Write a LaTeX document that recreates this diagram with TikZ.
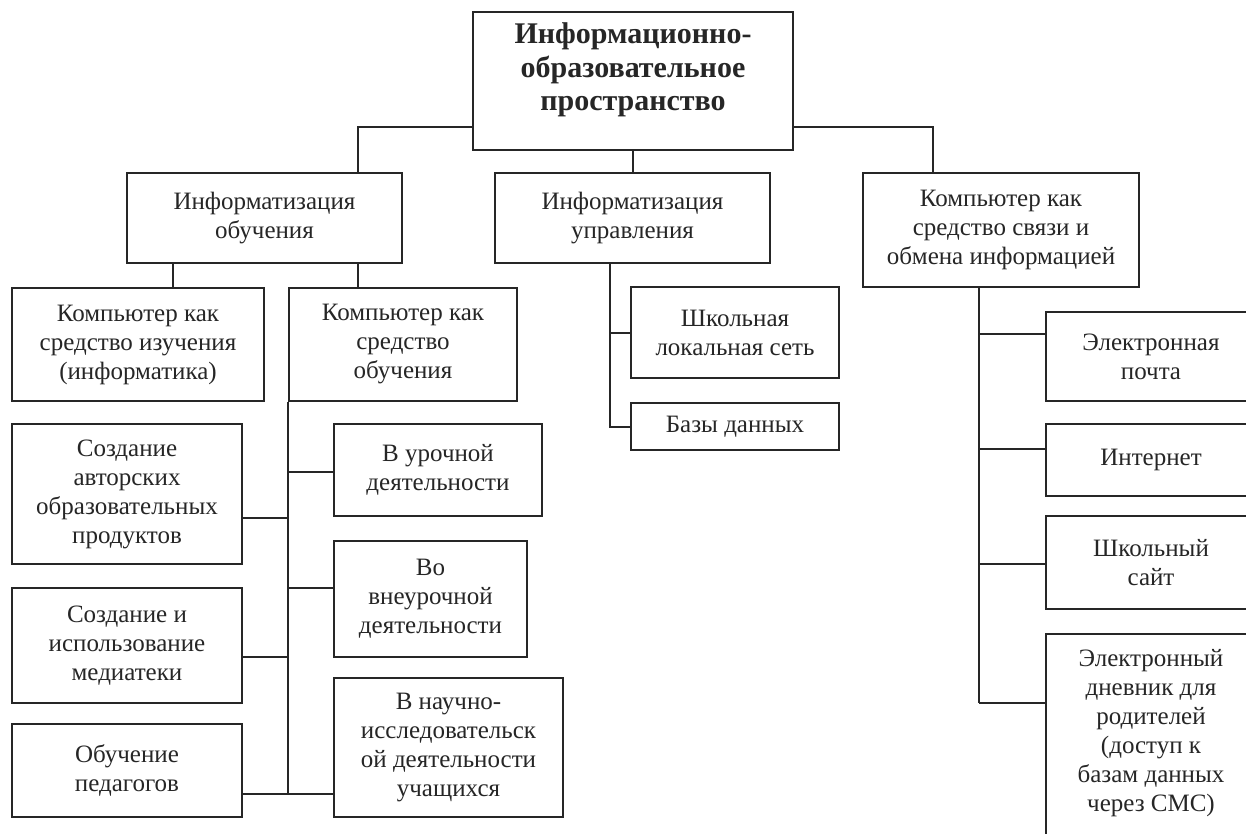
\documentclass[tikz,border=0pt]{standalone}
\usepackage{fontspec}
\setmainfont{Liberation Serif}
\begin{document}
\begin{tikzpicture}[x=1pt,y=-1pt,
  box/.style={draw=black!85, line width=2pt, inner sep=0pt, align=center,
    font=\fontsize{25}{29}\selectfont, text=black!85},
  rootfont/.style={inner sep=0pt, align=center,
    font=\fontsize{30}{33.5}\selectfont\bfseries, text=black!85},
  txt/.style={inner sep=0pt, align=center, font=\fontsize{25}{29}\selectfont, text=black!85},
  ln/.style={draw=black!85, line width=2pt}]
\useasboundingbox (0,0) rectangle (1246,834);
\clip (0,0) rectangle (1246,834);
\fill[white] (0,0) rectangle (1246,834);

% level 0
\node[box, minimum width=320pt, minimum height=138pt] (root) at (633,81) {};
\node[rootfont] (roott) at (633,70) {Информационно-\\образовательное\\пространство};

% level 1
\node[box, minimum width=275pt, minimum height=90pt] (io) at (264.5,218) {Информатизация\\обучения};
\node[box, minimum width=275pt, minimum height=90pt] (iu) at (632.5,218) {Информатизация\\управления};
\node[box, minimum width=276pt, minimum height=114pt] (ks) at (1001,230) {Компьютер как\\средство связи и\\обмена информацией};

% under Информатизация обучения
\node[box, minimum width=252pt, minimum height=113pt] (ki) at (138,344.5) {Компьютер как\\средство изучения\\(информатика)};
\node[box, minimum width=228pt, minimum height=113pt] (ko) at (403,344.5) {Компьютер как\\средство\\обучения};

\node[box, minimum width=230pt, minimum height=140pt] (ca) at (127,494) {Создание\\авторских\\образовательных\\продуктов};
\node[box, minimum width=230pt, minimum height=115pt] (cm) at (127,645.5) {Создание и\\использование\\медиатеки};
\node[box, minimum width=230pt, minimum height=93pt] (op) at (127,770.5) {Обучение\\педагогов};

\node[box, minimum width=208pt, minimum height=92pt] (vu) at (438,470) {В урочной\\деятельности};
\node[box, minimum width=193pt, minimum height=116pt] (vv) at (430.5,599) {Во\\внеурочной\\деятельности};
\node[box, minimum width=229pt, minimum height=139pt] (vn) at (448.5,747.5) {В научно-\\исследовательск\\ой деятельности\\учащихся};

% under Информатизация управления
\node[box, minimum width=208pt, minimum height=91pt] (sl) at (735,332.5) {Школьная\\локальная сеть};
\node[box, minimum width=208pt, minimum height=47pt] (bd) at (735,426.5) {Базы данных};

% under Компьютер как средство связи
\node[box, minimum width=210pt, minimum height=89pt] (ep) at (1151,356.5) {Электронная\\почта};
\node[box, minimum width=210pt, minimum height=72pt] (in) at (1151,460) {Интернет};
\node[box, minimum width=210pt, minimum height=93pt] (ss) at (1151,562.5) {Школьный\\сайт};
\node[box, minimum width=210pt, minimum height=216pt] (ed) at (1151,742) {};
\node[txt] (edt) at (1151,733) {Электронный\\дневник для\\родителей\\(доступ к\\базам данных\\через СМС)};

% connectors from root
\draw[ln] ([yshift=-46pt]root.west) -| ([xshift=93.5pt]io.north);
\draw[ln] (root.south) -- (root.south |- iu.north);
\draw[ln] ([yshift=-46pt]root.east) -| ([xshift=-68.5pt]ks.north);

% Информатизация обучения
\draw[ln] ([xshift=-91.5pt]io.south) -- ([xshift=-91.5pt]io.south |- ki.north);
\draw[ln] ([xshift=93.5pt]io.south) -- ([xshift=93.5pt]io.south |- ko.north);

% Информатизация управления
\coordinate (uv) at ([xshift=-22.5pt]iu.south);
\draw[ln] (uv) |- (bd.west);
\draw[ln] (uv |- sl.west) -- (sl.west);

% Компьютер как средство обучения spine
\coordinate (ov) at (ko.south west);
\coordinate (caj) at ([yshift=-24pt]ca.east);
\coordinate (cmj) at ([yshift=-11.5pt]cm.east);
\coordinate (opj) at ([yshift=-23.5pt]op.east);
\coordinate (vuj) at ([yshift=-2pt]vu.west);
\coordinate (vvj) at ([yshift=11pt]vv.west);
\coordinate (vnj) at ([yshift=-46.5pt]vn.west);
\draw[ln] (ov) -- (ov |- opj);
\draw[ln] (caj) -- (ov |- caj);
\draw[ln] (cmj) -- (ov |- cmj);
\draw[ln] (opj) -- (ov |- opj);
\draw[ln] (ov |- vuj) -- (vuj);
\draw[ln] (ov |- vvj) -- (vvj);
\draw[ln] (ov |- vnj) -- (vnj);

% Компьютер как средство связи spine
\coordinate (sv) at ([xshift=-22pt]ks.south);
\coordinate (epj) at ([yshift=22.5pt]ep.west);
\coordinate (inj) at ([yshift=11pt]in.west);
\coordinate (ssj) at ([yshift=-1.5pt]ss.west);
\coordinate (edj) at ([yshift=39pt]ed.west);
\draw[ln] (sv) -- (sv |- edj);
\draw[ln] (sv |- epj) -- (epj);
\draw[ln] (sv |- inj) -- (inj);
\draw[ln] (sv |- ssj) -- (ssj);
\draw[ln] (sv |- edj) -- (edj);
\end{tikzpicture}
\end{document}
